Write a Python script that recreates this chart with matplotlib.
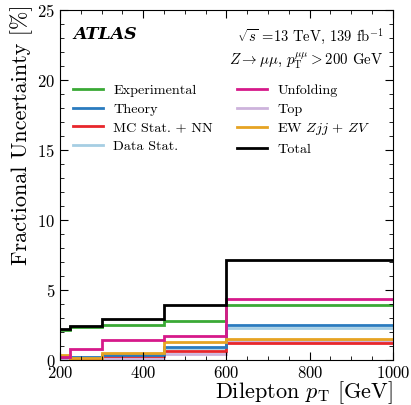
import matplotlib
matplotlib.use('Agg')
import matplotlib.pyplot as plt
from matplotlib.ticker import MultipleLocator

plt.rcParams['font.family'] = 'serif'
plt.rcParams['font.serif'] = ['cmr10']
plt.rcParams['mathtext.fontset'] = 'cm'
plt.rcParams['axes.formatter.use_mathtext'] = True

# bin edges in dilepton pT [GeV]
edges = [200, 225, 300, 450, 600, 1000]

# fractional uncertainties [%] per bin
experimental = [2.15, 2.35, 2.5, 2.8, 3.95]
theory = [0.25, 0.2, 0.35, 0.95, 2.48]
mc_stat = [0.2, 0.1, 0.3, 0.68, 1.25]
data_stat = [0.3, 0.2, 0.35, 0.85, 2.3]
unfolding = [0.2, 0.78, 1.45, 1.75, 4.38]
top = [0.05, 0.05, 0.15, 0.45, 1.35]
ew = [0.35, 0.15, 0.5, 1.3, 1.47]
total = [2.25, 2.45, 2.95, 3.95, 7.15]

labels = ['Experimental', 'Theory', 'MC Stat. + NN', 'Data Stat.',
          'Unfolding', 'Top', r'EW $Zjj$ + $ZV$', 'Total']
series = [experimental, theory, mc_stat, data_stat, unfolding, top, ew, total]
colors = ['#3aa935', '#2a7bbf', '#e8262b', '#a6cee3',
          '#d6198a', '#cdb3dc', '#e6a323', '#000000']

fig = plt.figure(figsize=(4.11, 4.05), dpi=100)
ax = fig.add_axes([0.146, 0.111, 0.81, 0.864])

# draw order: light ones first, total on top
order = [3, 5, 2, 1, 6, 0, 4, 7]
for i in order:
    ax.stairs(series[i], edges, color=colors[i], linewidth=2.0, baseline=None)
handles = [plt.Line2D([], [], color=c, linewidth=2.0) for c in colors]

ax.set_xlim(200, 1000)
ax.set_ylim(0, 25)
ax.xaxis.set_major_locator(MultipleLocator(200))
ax.xaxis.set_minor_locator(MultipleLocator(50))
ax.yaxis.set_major_locator(MultipleLocator(5))
ax.yaxis.set_minor_locator(MultipleLocator(1))
ax.tick_params(which='both', direction='in', top=True, right=True, labelsize=12)
ax.tick_params(which='major', length=6)
ax.tick_params(which='minor', length=3)

ax.set_xlabel(r'Dilepton $p_{\mathrm{T}}$ [GeV]', fontsize=16, loc='right', labelpad=-1)
ax.set_ylabel('Fractional Uncertainty [%]', fontsize=16, loc='top', labelpad=3)
ax.yaxis.label.set_y(1.015)

ax.text(0.04, 0.93, 'ATLAS', transform=ax.transAxes, fontsize=12.5,
        fontweight='bold', fontstyle='italic', family='DejaVu Serif', va='center')
ax.text(0.97, 0.925, r'$\sqrt{s}$ =13 TeV, 139 fb$^{-1}$', transform=ax.transAxes,
        fontsize=10.5, ha='right', va='center')
ax.text(0.97, 0.855, r'$Z\rightarrow\mu\mu$, $p_{\mathrm{T}}^{\mu\mu}>200$ GeV',
        transform=ax.transAxes, fontsize=10.7, ha='right', va='center')

ax.legend(handles, labels, loc='upper left',
          bbox_to_anchor=(0.0, 0.825), ncol=2, frameon=False, fontsize=10.2,
          handlelength=2.1, handletextpad=0.75, columnspacing=1.7,
          labelspacing=0.4)

fig.savefig('out.png', dpi=100)
